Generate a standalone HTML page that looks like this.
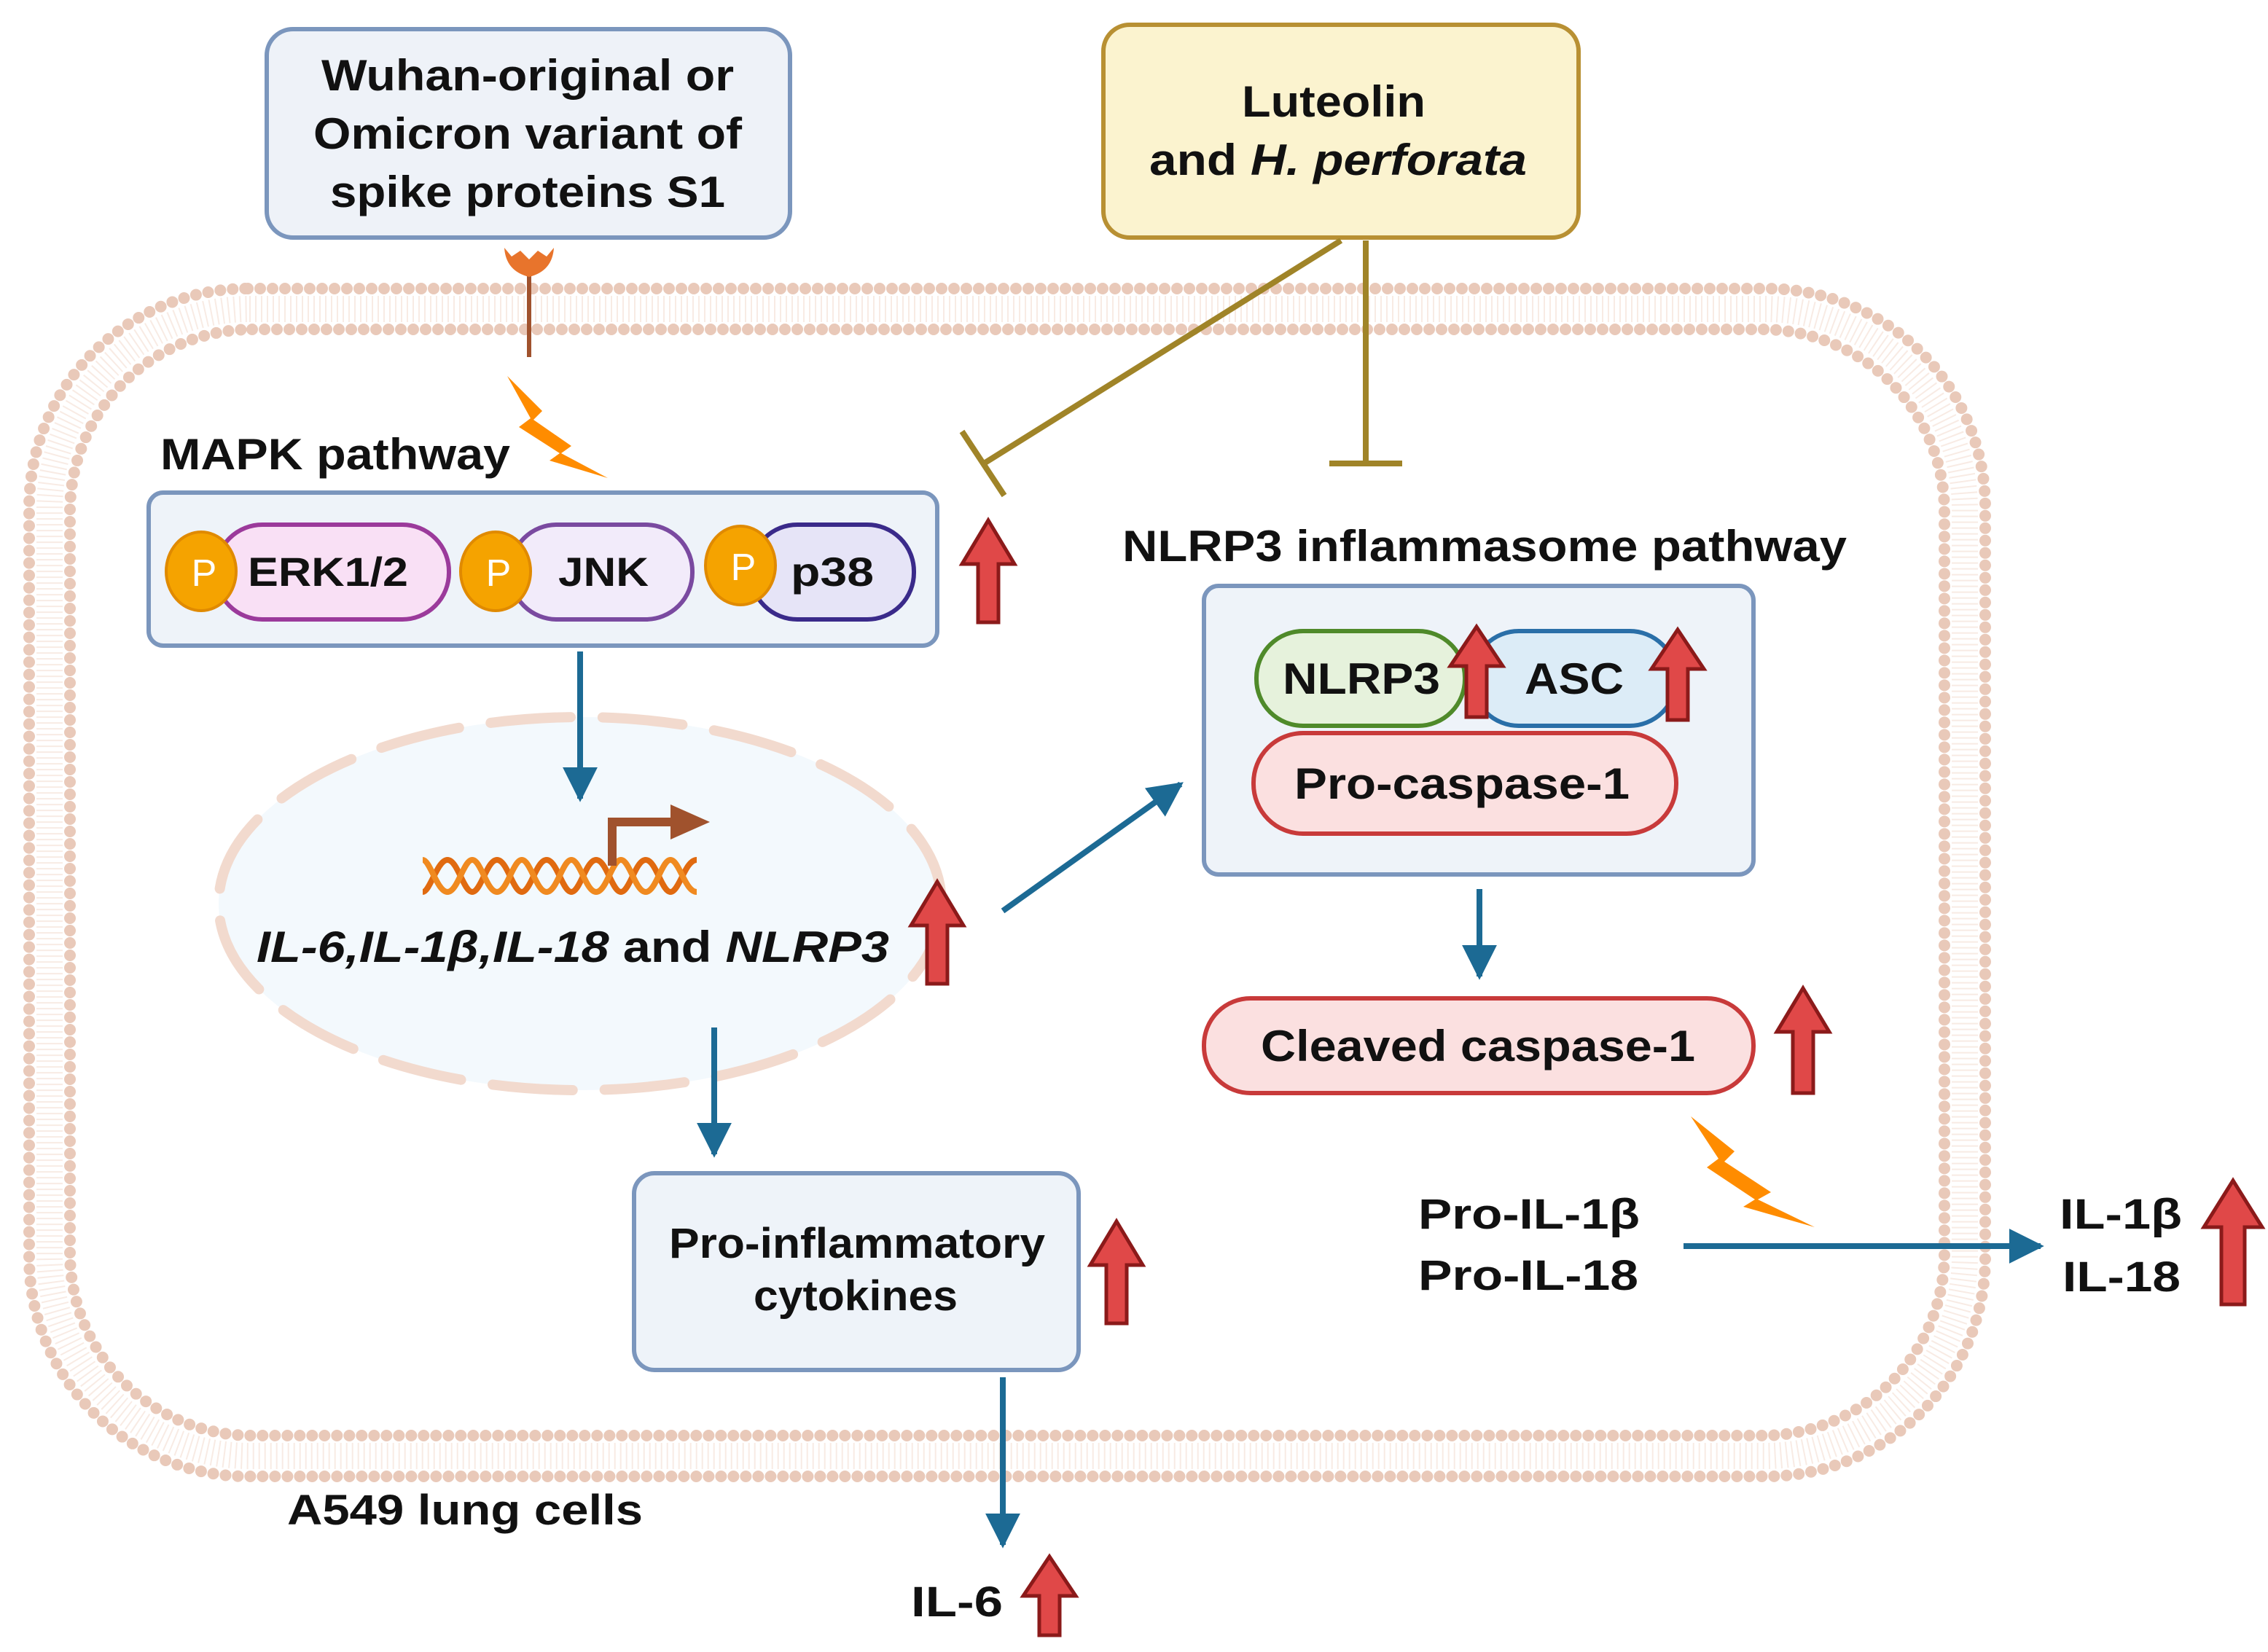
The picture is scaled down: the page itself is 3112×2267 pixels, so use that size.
<!DOCTYPE html>
<html><head><meta charset="utf-8"><style>
html,body{margin:0;padding:0;background:#fff}
svg{display:block}
text{font-family:"Liberation Sans",Arial,sans-serif;font-weight:bold;fill:#111}
</style></head><body>
<svg width="3112" height="2267" viewBox="0 0 1556 1133.5" xmlns="http://www.w3.org/2000/svg">
<defs>
<marker id="ab" viewBox="0 0 10 10" refX="9" refY="5" markerWidth="6" markerHeight="6" markerUnits="strokeWidth" orient="auto">
<path d="M0,0 L10,5 L0,10 z" fill="#1c6a94"/></marker>
</defs>
<rect width="1556" height="1134" fill="#fff"/>
<!-- membrane -->
<g fill="none" stroke="#e9c9b9">
<rect x="20" y="198" width="1342" height="815" rx="150" stroke-width="8" stroke-dasharray="0 8.5" stroke-linecap="round"/>
<rect x="48" y="226" width="1286" height="759" rx="125" stroke-width="8" stroke-dasharray="0 8.5" stroke-linecap="round"/>
<rect x="34" y="212" width="1314" height="787" rx="137" stroke-width="18" stroke="#f8ebe4" stroke-dasharray="1 3"/>
</g>
<!-- top boxes -->
<rect x="183" y="20" width="359" height="143" rx="18" fill="#eef2f8" stroke="#7b96bd" stroke-width="3"/>
<text x="362" y="62" font-size="30" text-anchor="middle" textLength="283" lengthAdjust="spacingAndGlyphs">Wuhan-original or</text>
<text x="362" y="102" font-size="30" text-anchor="middle" textLength="294" lengthAdjust="spacingAndGlyphs">Omicron variant of</text>
<text x="362" y="142" font-size="30" text-anchor="middle" textLength="271" lengthAdjust="spacingAndGlyphs">spike proteins S1</text>
<rect x="757" y="17" width="326" height="146" rx="18" fill="#fbf3cf" stroke="#b89033" stroke-width="3"/>
<text x="915" y="80" font-size="30" text-anchor="middle" textLength="126" lengthAdjust="spacingAndGlyphs">Luteolin</text>
<text x="918" y="120" font-size="30" text-anchor="middle" textLength="259" lengthAdjust="spacingAndGlyphs">and <tspan font-style="italic">H. perforata</tspan></text>
<!-- receptor -->
<line x1="363" y1="186" x2="363" y2="245" stroke="#a0522d" stroke-width="3"/>
<path d="M346,170 L351,176 L357,172 L363,178 L369,172 L375,176 L380,170 Q379,186 363,190 Q347,186 346,170z" fill="#e8742c"/>
<!-- lightning -->
<path d="M348,258 L372,282 L366,288 L392,306 L385,311 L417,328 L377,316 L384,311 L356,293 L364,287z" fill="#ff8c00"/>
<path d="M1160,766 L1190,790 L1183,797 L1215,818 L1206,823 L1245,842 L1196,828 L1204,823 L1171,801 L1179,795z" fill="#ff8c00"/>
<!-- inhibition -->
<g stroke="#a08428" stroke-width="4" fill="none">
<line x1="920" y1="165" x2="675" y2="318"/>
<line x1="660" y1="296" x2="689" y2="340"/>
<line x1="937" y1="165" x2="937" y2="318"/>
<line x1="912" y1="318" x2="962" y2="318"/>
</g>
<!-- MAPK -->
<text x="110" y="322" font-size="30" textLength="240" lengthAdjust="spacingAndGlyphs">MAPK pathway</text>
<rect x="102" y="338" width="541" height="105" rx="10" fill="#eef3f9" stroke="#7b96bd" stroke-width="3"/>
<rect x="148" y="360" width="160" height="65" rx="32" fill="#f9e0f5" stroke="#9b3a9b" stroke-width="3"/>
<rect x="350" y="360" width="125" height="65" rx="32" fill="#f2ebfa" stroke="#7a4aa0" stroke-width="3"/>
<rect x="515" y="360" width="112" height="65" rx="32" fill="#e6e4f7" stroke="#3a2a8a" stroke-width="3"/>
<text x="225" y="402" font-size="28" text-anchor="middle" textLength="110" lengthAdjust="spacingAndGlyphs">ERK1/2</text>
<text x="414" y="402" font-size="28" text-anchor="middle" textLength="62" lengthAdjust="spacingAndGlyphs">JNK</text>
<text x="571" y="402" font-size="28" text-anchor="middle" textLength="57" lengthAdjust="spacingAndGlyphs">p38</text>
<g fill="#f5a300" stroke="#e08a00" stroke-width="2">
<ellipse cx="138" cy="392" rx="24" ry="27"/><ellipse cx="340" cy="392" rx="24" ry="27"/><ellipse cx="508" cy="388" rx="24" ry="27"/></g>
<g font-size="26" text-anchor="middle"><text x="140" y="402" style="fill:#fff;font-weight:normal">P</text><text x="342" y="402" style="fill:#fff;font-weight:normal">P</text><text x="510" y="398" style="fill:#fff;font-weight:normal">P</text></g>
<!-- nucleus -->
<ellipse cx="398" cy="620" rx="248" ry="128" fill="#f3f9fd" stroke="#f2dace" stroke-width="7" stroke-dasharray="55 22" stroke-linecap="round"/>
<path d="M290,612 C295,612 300,590 307,590 C314,590 318,612 324,612 C330,612 334,590 341,590 C348,590 352,612 358,612 C364,612 368,590 375,590 C382,590 386,612 392,612 C398,612 402,590 409,590 C416,590 420,612 426,612 C432,612 436,590 443,590 C450,590 454,612 460,612 C466,612 470,590 478,590" fill="none" stroke="#e06a10" stroke-width="4"/>
<path d="M290,590 C295,590 300,612 307,612 C314,612 318,590 324,590 C330,590 334,612 341,612 C348,612 352,590 358,590 C364,590 368,612 375,612 C382,612 386,590 392,590 C398,590 402,612 409,612 C416,612 420,590 426,590 C432,590 436,612 443,612 C450,612 454,590 460,590 C466,590 470,612 478,612" fill="none" stroke="#f08a20" stroke-width="4"/>
<path d="M420,594 L420,564 L462,564" fill="none" stroke="#a0522d" stroke-width="6"/>
<path d="M460,552 L487,564 L460,576z" fill="#a0522d"/>
<text x="393" y="660" font-size="30" text-anchor="middle" textLength="434" lengthAdjust="spacingAndGlyphs"><tspan font-style="italic">IL-6,IL-1β,IL-18</tspan> and <tspan font-style="italic">NLRP3</tspan></text>
<!-- NLRP3 -->
<text x="770" y="385" font-size="30" textLength="497" lengthAdjust="spacingAndGlyphs">NLRP3 inflammasome pathway</text>
<rect x="826" y="402" width="377" height="198" rx="10" fill="#eef3f9" stroke="#7b96bd" stroke-width="3"/>
<rect x="862" y="433" width="143" height="65" rx="32" fill="#e6f2dc" stroke="#4f8a2a" stroke-width="3"/>
<rect x="1010" y="433" width="140" height="65" rx="32" fill="#dcecf7" stroke="#2a6fa8" stroke-width="3"/>
<rect x="860" y="503" width="290" height="69" rx="34" fill="#fbe0e0" stroke="#c83a3a" stroke-width="3"/>
<text x="934" y="476" font-size="30" text-anchor="middle" textLength="108" lengthAdjust="spacingAndGlyphs">NLRP3</text>
<text x="1080" y="476" font-size="30" text-anchor="middle" textLength="68" lengthAdjust="spacingAndGlyphs">ASC</text>
<text x="1003" y="548" font-size="30" text-anchor="middle" textLength="230" lengthAdjust="spacingAndGlyphs">Pro-caspase-1</text>
<rect x="826" y="685" width="377" height="65" rx="32" fill="#fbe0e0" stroke="#c83a3a" stroke-width="3"/>
<text x="1014" y="728" font-size="30" text-anchor="middle" textLength="298" lengthAdjust="spacingAndGlyphs">Cleaved caspase-1</text>
<!-- cytokines -->
<rect x="435" y="805" width="305" height="135" rx="14" fill="#eef3f9" stroke="#7b96bd" stroke-width="3"/>
<text x="588" y="863" font-size="29" text-anchor="middle" textLength="258" lengthAdjust="spacingAndGlyphs">Pro-inflammatory</text>
<text x="587" y="899" font-size="29" text-anchor="middle" textLength="140" lengthAdjust="spacingAndGlyphs">cytokines</text>
<text x="973" y="843" font-size="29" textLength="152" lengthAdjust="spacingAndGlyphs">Pro-IL-1β</text>
<text x="973" y="885" font-size="29" textLength="151" lengthAdjust="spacingAndGlyphs">Pro-IL-18</text>
<text x="1413" y="843" font-size="29" textLength="84" lengthAdjust="spacingAndGlyphs">IL-1β</text>
<text x="1415" y="886" font-size="29" textLength="81" lengthAdjust="spacingAndGlyphs">IL-18</text>
<text x="197" y="1046" font-size="29" textLength="244" lengthAdjust="spacingAndGlyphs">A549 lung cells</text>
<text x="625" y="1109" font-size="29" textLength="63" lengthAdjust="spacingAndGlyphs">IL-6</text>
<!-- blue arrows -->
<g stroke="#1c6a94" stroke-width="4" fill="none" marker-end="url(#ab)">
<line x1="398" y1="447" x2="398" y2="548"/>
<line x1="688" y1="625" x2="810" y2="538"/>
<line x1="1015" y1="610" x2="1015" y2="670"/>
<line x1="490" y1="705" x2="490" y2="792"/>
<line x1="688" y1="945" x2="688" y2="1060"/>
<line x1="1155" y1="855" x2="1400" y2="855"/>
</g>
<!-- red up arrows -->
<g fill="#e04848" stroke="#8b1a1a" stroke-width="2.5" stroke-linejoin="miter">
<polygon points="678,357 696,387 685,387 685,427 671,427 671,387 660,387"/>
<polygon points="643,605 661,635 650,635 650,675 636,675 636,635 625,635"/>
<polygon points="766,838 784,868 773,868 773,908 759,908 759,868 748,868"/>
<polygon points="1237,678 1255,708 1244,708 1244,750 1230,750 1230,708 1219,708"/>
<polygon points="1532,810 1552,842 1540,842 1540,895 1524,895 1524,842 1512,842"/>
<polygon points="720,1068 738,1095 727,1095 727,1122 713,1122 713,1095 702,1095"/>
<polygon points="1013,430 1031,457 1020,457 1020,492 1006,492 1006,457 995,457"/>
<polygon points="1151,432 1169,459 1158,459 1158,494 1144,494 1144,459 1133,459"/>
</g>
</svg>
</body></html>
